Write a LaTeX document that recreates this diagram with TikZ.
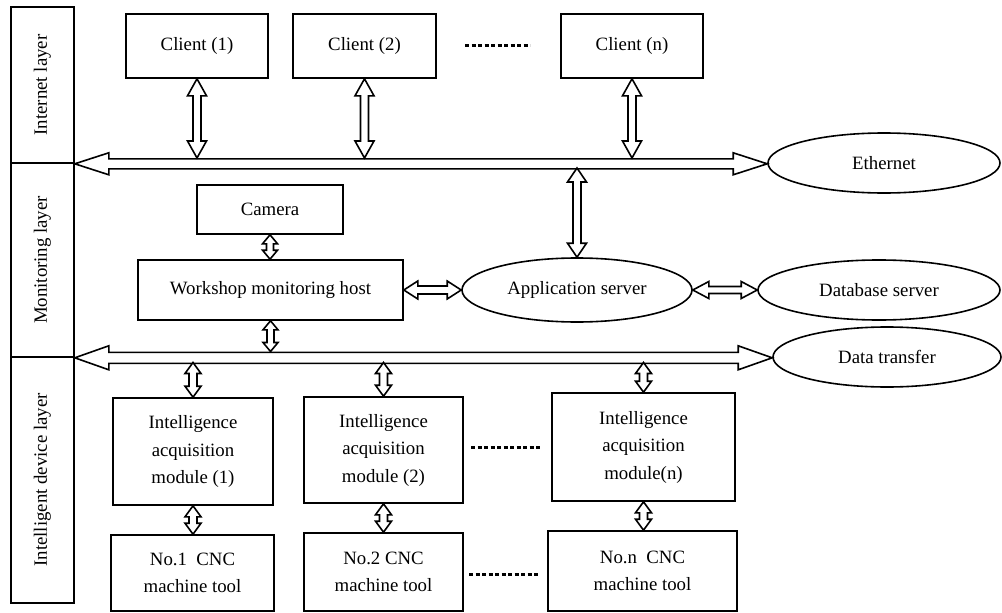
\documentclass[tikz,border=0pt]{standalone}
\usepackage{fontspec}
\setmainfont{Liberation Serif}
\usetikzlibrary{calc,shapes.geometric}
\tikzset{
  lw/.style={line width=1.6pt},
  box/.style={draw, lw, rectangle, inner sep=0pt, align=center},
  oval/.style={draw, lw, ellipse, inner sep=0pt, align=center},
  layer/.style={draw, lw, rectangle, inner sep=0pt, minimum width=63pt},
  hollow/.style={draw, fill=white, lw, line join=miter},
  dotline/.style={line width=3pt, dash pattern=on 4pt off 2.5pt},
  every node/.style={font=\fontsize{18.8pt}{27.5pt}\selectfont}
}
% vertical double hollow arrow: #1 top point, #2 bottom point, #3 shaft half width, #4 head half width, #5 head length
\newcommand{\vdarrow}[5]{%
  \draw[hollow] let \p1=#1, \p2=#2 in
   (\x1,\y1) -- (\x1+#4,\y1-#5) -- (\x1+#3,\y1-#5) -- (\x1+#3,\y2+#5) -- (\x1+#4,\y2+#5)
   -- (\x1,\y2) -- (\x1-#4,\y2+#5) -- (\x1-#3,\y2+#5) -- (\x1-#3,\y1-#5) -- (\x1-#4,\y1-#5) -- cycle;}
% horizontal double hollow arrow: #1 left point, #2 right point
\newcommand{\hdarrow}[5]{%
  \draw[hollow] let \p1=#1, \p2=#2 in
   (\x1,\y1) -- (\x1+#5,\y1+#4) -- (\x1+#5,\y1+#3) -- (\x2-#5,\y1+#3) -- (\x2-#5,\y1+#4)
   -- (\x2,\y1) -- (\x2-#5,\y1-#4) -- (\x2-#5,\y1-#3) -- (\x1+#5,\y1-#3) -- (\x1+#5,\y1-#4) -- cycle;}
\begin{document}
\begin{tikzpicture}[x=1pt,y=-1pt]
\useasboundingbox (0,0) rectangle (1002,613);

% layer column
\node[layer, minimum height=156pt] (inet) at (42.5,85) {};
\node[layer, minimum height=194pt] (mon) at (42.5,260) {};
\node[layer, minimum height=246pt] (idev) at (42.5,480) {};
\node[rotate=90] (inetl) at (inet.center) {Internet layer};
\node[rotate=90] (monl) at (mon.center) {Monitoring layer};
\node[rotate=90] (idevl) at (idev.center) {Intelligent device layer};

% clients
\node[box, minimum width=142pt, minimum height=64pt] (c1) at (197,46) {Client (1)};
\node[box, minimum width=143pt, minimum height=64pt] (c2) at (364.5,46) {Client (2)};
\node[box, minimum width=142pt, minimum height=64pt] (cn) at (632,46) {Client (n)};
\coordinate (dta) at (465,45);
\coordinate (dtb) at (530,45);
\draw[dotline] (dta) -- (dtb);

% ellipses
\node[oval, minimum width=232pt, minimum height=60pt] (eth) at (884,163) {Ethernet};
\node[oval, minimum width=230pt, minimum height=64pt] (app) at (577,290) {Application server};
\node[oval, minimum width=242pt, minimum height=60pt] (db) at (879,290) {Database server};
\node[oval, minimum width=228pt, minimum height=60pt] (dt) at (887,357) {Data transfer};

% monitoring boxes
\node[box, minimum width=146pt, minimum height=49pt] (cam) at (270,209.5) {Camera};
\node[box, minimum width=265pt, minimum height=60pt] (ws) at (270.5,290) {Workshop monitoring host};

% device boxes
\node[box, minimum width=160pt, minimum height=107pt] (m1) at (193,451.5) {Intelligence\\acquisition\\module (1)};
\node[box, minimum width=159pt, minimum height=106pt] (m2) at (383.5,450) {Intelligence\\acquisition\\module (2)};
\node[box, minimum width=183pt, minimum height=108pt] (mn) at (643.5,447) {Intelligence\\acquisition\\module(n)};
\node[box, minimum width=163pt, minimum height=76pt] (t1) at (192.5,573) {No.1~ CNC\\machine tool};
\node[box, minimum width=159pt, minimum height=78pt] (t2) at (383.5,572) {No.2 CNC\\machine tool};
\node[box, minimum width=189pt, minimum height=80pt] (tn) at (642.5,571) {No.n~ CNC\\machine tool};
\coordinate (dma) at (471,447);
\coordinate (dmb) at (541,447);
\draw[dotline] (dma) -- (dmb);
\coordinate (dca) at (469,574);
\coordinate (dcb) at (539,574);
\draw[dotline] (dca) -- (dcb);

% bus reference coordinates
\coordinate (ebt) at (400,158);
\coordinate (ebb) at (400,168);
\coordinate (dbt) at (400,351.5);
\coordinate (dbb) at (400,362.5);

% buses
\hdarrow{(inet.south east)}{(eth.west)}{5pt}{11pt}{34pt}
\hdarrow{(mon.south east)}{(dt.west)}{5.5pt}{12pt}{34pt}

% client arrows
\vdarrow{(c1.south)}{(c1.south |- ebt)}{4pt}{9.5pt}{17pt}
\vdarrow{(c2.south)}{(c2.south |- ebt)}{4pt}{9.5pt}{17pt}
\vdarrow{(cn.south)}{(cn.south |- ebt)}{4pt}{9.5pt}{17pt}

% ethernet to application server
\vdarrow{(app.north |- ebb)}{(app.north)}{4pt}{9.5pt}{14pt}

% monitoring arrows
\vdarrow{(cam.south)}{(ws.north)}{3.5pt}{7.5pt}{9pt}
\vdarrow{(ws.south)}{(ws.south |- dbt)}{3.5pt}{7.5pt}{9pt}
\hdarrow{(ws.east)}{(app.west)}{4pt}{9pt}{14pt}
\hdarrow{(app.east)}{(db.west)}{3.5pt}{8.5pt}{16pt}

% device arrows
\vdarrow{(m1.north |- dbb)}{(m1.north)}{4pt}{8pt}{11pt}
\vdarrow{(m2.north |- dbb)}{(m2.north)}{4pt}{8pt}{11pt}
\vdarrow{(mn.north |- dbb)}{(mn.north)}{4pt}{8pt}{11pt}
\vdarrow{(m1.south)}{(t1.north)}{4pt}{8pt}{11pt}
\vdarrow{(m2.south)}{(t2.north)}{4pt}{8pt}{11pt}
\vdarrow{(mn.south)}{(tn.north)}{4pt}{8pt}{11pt}
\end{tikzpicture}
\end{document}
